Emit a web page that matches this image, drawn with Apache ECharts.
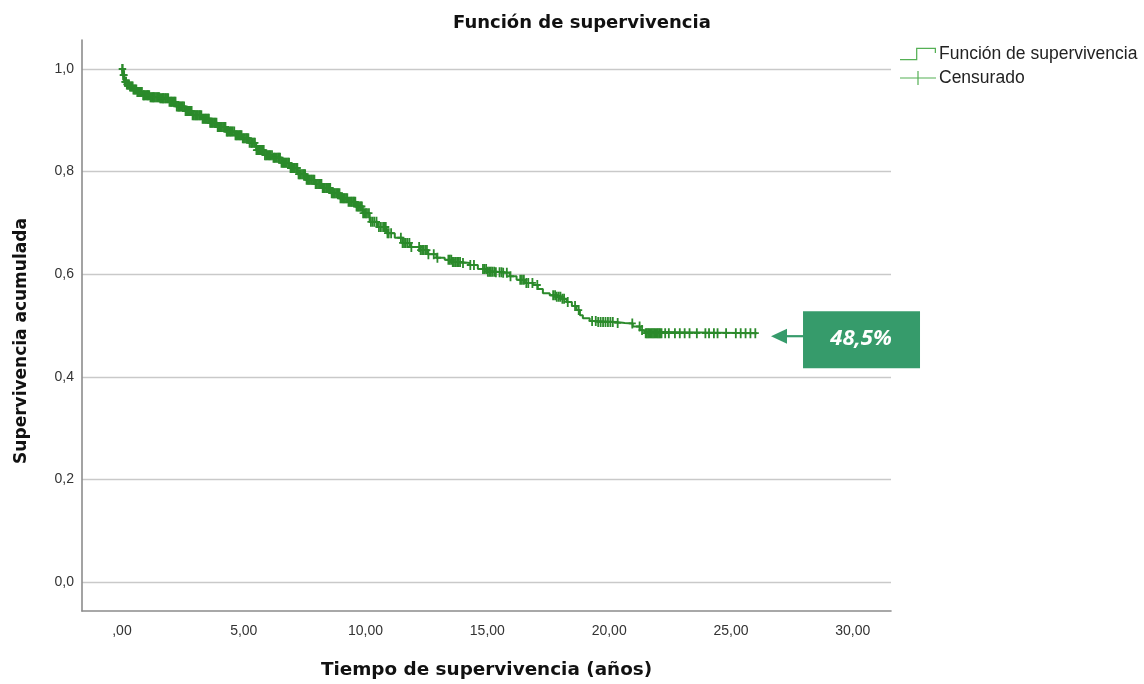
<!DOCTYPE html>
<html>
<head>
<meta charset="utf-8">
<script src="https://cdn.jsdelivr.net/npm/echarts@6/dist/echarts.min.js"></script>
<style>
html,body{margin:0;padding:0;background:#fff;}
#chart{width:1144px;height:684px;}
</style>
</head>
<body>
<div id="chart"></div>
<script>
// Kaplan-Meier step points (time in years, cumulative survival)
const eventTimes = [0, 0.05, 0.10, 0.18, 0.31, 0.45, 0.60, 0.84, 1.13, 1.54, 1.95, 2.23, 2.57, 2.90, 3.27, 3.59, 3.92, 4.28, 4.62, 4.95, 5.24, 5.51, 5.85, 6.18, 6.55, 6.88, 7.21, 7.57, 7.91, 8.24, 8.57, 8.94, 9.26, 9.62, 9.88, 10.17, 10.50, 10.85, 11.20, 11.52, 11.85, 12.22, 12.55, 12.91, 13.25, 13.58, 13.91, 14.28, 14.61, 14.96, 15.30, 15.63, 15.92, 16.20, 16.54, 16.87, 17.07, 17.28, 17.56, 17.84, 18.06, 18.25, 18.47, 18.66, 18.80, 18.92, 19.20, 19.48, 20.30, 20.64, 20.97, 21.26, 21.38, 21.47, 26.07];
const survival = [1.000, 0.988, 0.975, 0.970, 0.966, 0.960, 0.955, 0.949, 0.945, 0.943, 0.936, 0.927, 0.918, 0.910, 0.903, 0.895, 0.887, 0.878, 0.871, 0.865, 0.856, 0.842, 0.832, 0.827, 0.817, 0.807, 0.795, 0.784, 0.776, 0.768, 0.758, 0.748, 0.741, 0.732, 0.719, 0.702, 0.692, 0.680, 0.671, 0.661, 0.653, 0.647, 0.639, 0.632, 0.628, 0.624, 0.622, 0.618, 0.610, 0.605, 0.604, 0.603, 0.596, 0.589, 0.583, 0.579, 0.571, 0.563, 0.559, 0.556, 0.552, 0.546, 0.538, 0.530, 0.520, 0.514, 0.509, 0.507, 0.505, 0.504, 0.498, 0.491, 0.488, 0.485, 0.485];
// censored observation times (years)
const censorTimes = [0.01, 0.03, 0.05, 0.07, 0.09, 0.12, 0.14, 0.17, 0.2, 0.23, 0.26, 0.29, 0.33, 0.37, 0.41, 0.44, 0.47, 0.51, 0.55, 0.59, 0.63, 0.66, 0.7, 0.74, 0.78, 0.82, 0.87, 0.9, 0.93, 0.97, 1.02, 1.05, 1.08, 1.12, 1.17, 1.21, 1.25, 1.28, 1.31, 1.35, 1.4, 1.45, 1.49, 1.53, 1.57, 1.62, 1.66, 1.69, 1.72, 1.77, 1.81, 1.86, 1.9, 1.95, 2.0, 2.03, 2.07, 2.12, 2.16, 2.2, 2.25, 2.3, 2.34, 2.37, 2.41, 2.46, 2.5, 2.55, 2.61, 2.65, 2.69, 2.73, 2.77, 2.82, 2.86, 2.9, 2.95, 3.0, 3.04, 3.08, 3.12, 3.17, 3.21, 3.26, 3.31, 3.35, 3.4, 3.44, 3.48, 3.53, 3.57, 3.62, 3.66, 3.7, 3.74, 3.79, 3.83, 3.88, 3.93, 3.97, 4.01, 4.06, 4.1, 4.15, 4.2, 4.25, 4.3, 4.33, 4.37, 4.42, 4.46, 4.5, 4.55, 4.61, 4.66, 4.7, 4.74, 4.79, 4.83, 4.87, 4.91, 4.96, 5.0, 5.05, 5.1, 5.14, 5.19, 5.24, 5.3, 5.33, 5.37, 5.42, 5.46, 5.52, 5.57, 5.6, 5.64, 5.69, 5.73, 5.78, 5.82, 5.87, 5.92, 5.97, 6.02, 6.06, 6.1, 6.16, 6.22, 6.26, 6.3, 6.36, 6.41, 6.45, 6.49, 6.55, 6.6, 6.64, 6.68, 6.72, 6.77, 6.82, 6.86, 6.92, 6.97, 7.0, 7.04, 7.1, 7.15, 7.2, 7.25, 7.29, 7.33, 7.39, 7.44, 7.48, 7.52, 7.58, 7.63, 7.67, 7.71, 7.76, 7.8, 7.85, 7.9, 7.95, 8.0, 8.05, 8.1, 8.14, 8.19, 8.24, 8.28, 8.33, 8.38, 8.42, 8.47, 8.51, 8.55, 8.61, 8.66, 8.7, 8.74, 8.79, 8.84, 8.88, 8.93, 8.97, 9.02, 9.07, 9.11, 9.15, 9.2, 9.25, 9.3, 9.35, 9.4, 9.44, 9.49, 9.53, 9.58, 9.63, 9.68, 9.72, 9.77, 9.81, 9.85, 9.9, 9.96, 10.01, 10.06, 10.14, 10.22, 10.29, 10.36, 10.45, 10.55, 10.63, 10.72, 10.78, 10.83, 10.9, 10.95, 11.05, 11.45, 11.52, 11.58, 11.65, 11.72, 11.8, 11.88, 12.2, 12.26, 12.32, 12.38, 12.45, 12.52, 12.58, 12.8, 12.95, 13.4, 13.46, 13.52, 13.58, 13.63, 13.7, 13.76, 13.82, 13.88, 14.0, 14.3, 14.45, 14.82, 14.88, 14.95, 15.02, 15.08, 15.14, 15.2, 15.28, 15.35, 15.5, 15.58, 15.65, 15.8, 15.95, 16.35, 16.42, 16.5, 16.6, 16.68, 16.85, 17.05, 17.7, 17.78, 17.85, 17.93, 18.0, 18.08, 18.15, 18.3, 18.6, 18.75, 19.3, 19.45, 19.55, 19.65, 19.75, 19.85, 19.95, 20.05, 20.15, 20.35, 20.95, 21.25, 21.35, 21.5, 21.55, 21.6, 21.65, 21.7, 21.75, 21.8, 21.85, 21.9, 21.95, 22.0, 22.05, 22.1, 22.15, 22.3, 22.45, 22.7, 22.9, 23.1, 23.3, 23.6, 23.95, 24.1, 24.3, 24.45, 24.8, 25.2, 25.4, 25.6, 25.8, 26.0];
const xTicks = [0, 5, 10, 15, 20, 25, 30];
const yTicks = [0, 0.2, 0.4, 0.6, 0.8, 1.0];
const annotationText = '48,5%';

const curveColor = '#2b8a2b';
const legendColor = '#55b055';
const boxColor = '#369b6b';

function survivalAt(t) {
  let s = survival[0];
  for (let i = 0; i < eventTimes.length; i++) {
    if (eventTimes[i] <= t) s = survival[i]; else break;
  }
  return s;
}

const stepData = eventTimes.map((t, i) => [t, survival[i]]);
const censorData = censorTimes.map(t => [t, survivalAt(t)]);

const plusPath = 'path://M2.6,0H4.4V4H7V5.8H4.4V9.8H2.6V5.8H0V4H2.6Z';
const stepIcon = 'path://M0,12.8H15.4V2H34.5V7H33.3V3.2H16.6V14H0Z';
const plusIcon = 'path://M0,6.4H17.4V0H18.6V6.4H36V7.6H18.6V14H17.4V7.6H0Z';

const yTitle = {
  type: 'text', x: 22, y: 341, rotation: Math.PI / 2,
  style: { text: 'Supervivencia acumulada', fontFamily: 'DejaVu Sans', fontWeight: 'bold', fontSize: 17, fill: '#111', align: 'center', verticalAlign: 'middle' }
};

const chart = echarts.init(document.getElementById('chart'));
chart.setOption({
  animation: false,
  backgroundColor: '#ffffff',
  title: {
    text: 'Función de supervivencia',
    left: 448, top: 9,
    textStyle: { fontFamily: 'DejaVu Sans', fontWeight: 'bold', fontSize: 18, color: '#111' }
  },
  legend: {
    orient: 'vertical',
    left: 895, top: 40,
    itemWidth: 36, itemHeight: 14, itemGap: 6,
    textStyle: { fontFamily: 'Liberation Sans', fontSize: 17.5, color: '#222', padding: [0,0,0,-2] },
    data: [
      { name: 'Función de supervivencia', icon: stepIcon, itemStyle: { color: legendColor } },
      { name: 'Censurado', icon: plusIcon, itemStyle: { color: legendColor } }
    ]
  },
  grid: { left: 82, right: 253, top: 40, bottom: 73, containLabel: false, outerBoundsMode: 'none' },
  xAxis: {
    type: 'value', min: -1.64, max: 31.57,
    name: 'Tiempo de supervivencia (años)',
    nameLocation: 'middle', nameGap: 50,
    nameTextStyle: { fontFamily: 'DejaVu Sans', fontWeight: 'bold', fontSize: 18.4, color: '#111' },
    axisLine: { show: true, onZero: false, lineStyle: { color: '#8c8c8c', width: 1.6 } },
    axisTick: { show: false, customValues: xTicks },
    splitLine: { show: false },
    axisLabel: {
      customValues: xTicks, margin: 13,
      fontFamily: 'Liberation Sans', fontSize: 14, color: '#333',
      formatter: v => { const s = v.toFixed(2).replace('.', ','); return s.startsWith('0,') ? s.slice(1) : s; }
    }
  },
  yAxis: {
    type: 'value', min: -0.0565, max: 1.0565,
    axisLine: { show: true, onZero: false, lineStyle: { color: '#8c8c8c', width: 1.6 } },
    axisTick: { show: false, customValues: yTicks },
    splitLine: { show: true, lineStyle: { color: '#c9c9c9', width: 1.4 } },
    axisLabel: {
      customValues: yTicks, margin: 8,
      fontFamily: 'Liberation Sans', fontSize: 14, color: '#333',
      formatter: v => v.toFixed(1).replace('.', ',')
    }
  },
  series: [
    {
      name: 'Función de supervivencia', type: 'line', step: 'end',
      data: stepData, showSymbol: false, symbol: 'none',
      lineStyle: { color: curveColor, width: 2 }, itemStyle: { color: curveColor },
      z: 3
    },
    {
      name: 'Censurado', type: 'scatter',
      data: censorData, symbol: plusPath, symbolSize: [7, 10],
      itemStyle: { color: curveColor, opacity: 1 },
      z: 4
    }
  ],
  graphic: [yTitle]
});

// annotation anchored to the last point of the curve
const lastT = eventTimes[eventTimes.length - 1];
const lastS = survival[survival.length - 1];
const p = chart.convertToPixel({ xAxisIndex: 0, yAxisIndex: 0 }, [lastT, lastS]);
const ax = p[0], ay = p[1] + 3;
chart.setOption({
  graphic: [
    yTitle,
    { type: 'polygon', shape: { points: [[ax + 14, ay], [ax + 30, ay - 7.5], [ax + 30, ay + 7.5]] }, style: { fill: boxColor } },
    { type: 'line', shape: { x1: ax + 29, y1: ay, x2: ax + 47, y2: ay }, style: { stroke: boxColor, lineWidth: 2.2 } },
    { type: 'rect', shape: { x: ax + 46, y: ay - 25, width: 117, height: 57 }, style: { fill: boxColor } },
    { type: 'text', x: ax + 104, y: ay + 3, style: { text: annotationText, fontFamily: 'Open Sans', fontStyle: 'italic', fontWeight: 'bold', fontSize: 22, fill: '#ffffff', align: 'center', verticalAlign: 'middle' } }
  ]
});
</script>
</body>
</html>
